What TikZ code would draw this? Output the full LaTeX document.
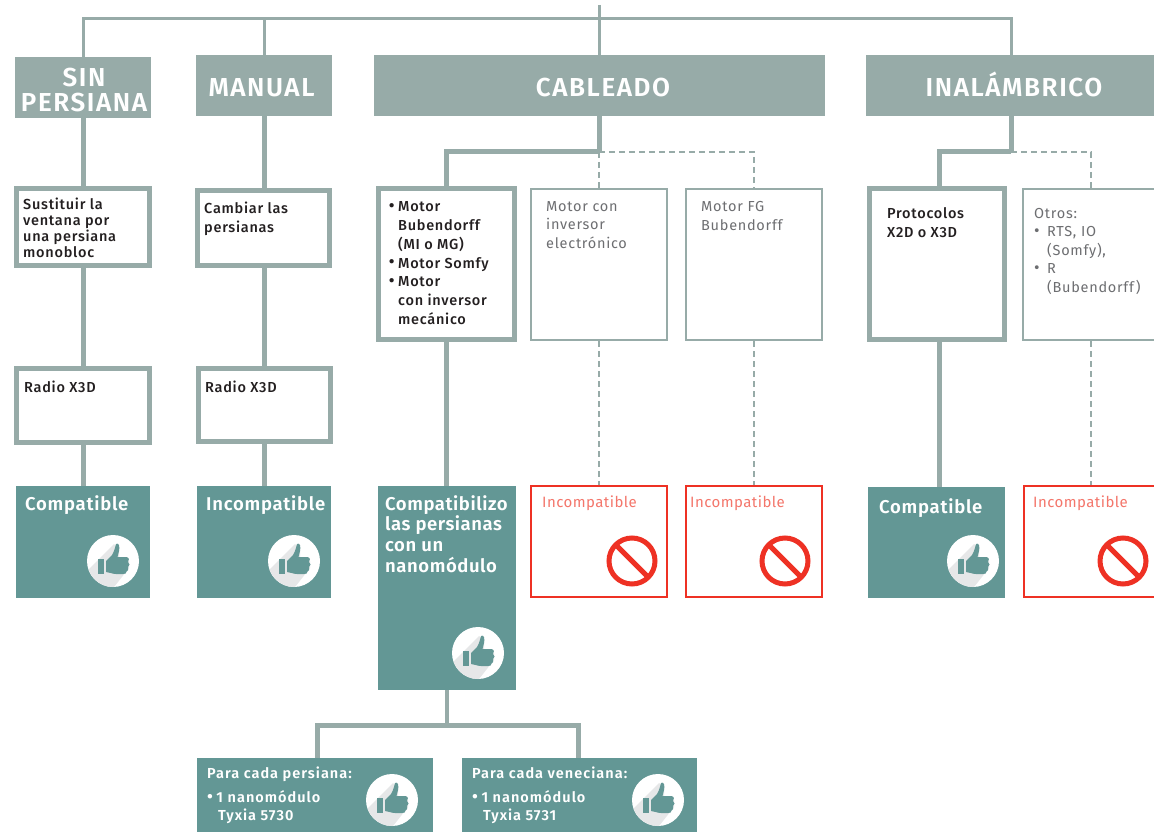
\documentclass[tikz,border=0pt]{standalone}
\usepackage{fontspec}
\setmainfont[BoldFont={Fira Sans Medium}]{Fira Sans}
\newfontfamily\heavy{Fira Sans SemiBold}
\newcommand{\spc}[1]{\addfontfeature{LetterSpace=#1}}
\newcommand{\bul}{\raisebox{0.3pt}{\fontsize{17}{17}\selectfont •}}
\definecolor{teal}{HTML}{639795}
\definecolor{slate}{HTML}{97ABA8}
\definecolor{redx}{HTML}{EE3124}
\definecolor{redt}{HTML}{F4766B}
\definecolor{gtxt}{HTML}{6D6E71}
\definecolor{dtxt}{HTML}{231F20}
\definecolor{lightshade}{HTML}{E6E7E8}
\tikzset{
 x=1pt,y=-1pt,
 header/.style={fill=slate,draw=none,inner sep=0,outer sep=0},
 thick box/.style={draw=slate,line width=5pt,fill=white,inner sep=0},
 thin box/.style={draw=slate,line width=2pt,fill=white,inner sep=0},
 red box/.style={draw=redx,line width=2pt,fill=white,inner sep=0},
 teal box/.style={fill=teal,draw=none,inner sep=0,outer sep=0},
 bus/.style={draw=slate,line width=3pt},
 solid link/.style={draw=slate,line width=5pt},
 dash link/.style={draw=slate,line width=2pt,dash pattern=on 6pt off 4pt},
 htext/.style={font=\fontsize{26}{25}\selectfont\heavy\spc{6},text=white,inner sep=0,align=center},
 dark/.style={font=\fontsize{14.5}{18.8}\selectfont\bfseries\spc{5},text=dtxt,inner sep=0,anchor=north west,align=left},
 soft/.style={font=\fontsize{14.5}{18.3}\selectfont\spc{5},text=gtxt,inner sep=0,anchor=north west,align=left},
 redtext/.style={font=\fontsize{15}{18}\selectfont\spc{3},text=redt,inner sep=0,anchor=north west,align=left},
 white text/.style={font=\fontsize{18.5}{21}\selectfont\heavy\spc{4},text=white,inner sep=0,anchor=north west,align=left},
 small white/.style={font=\fontsize{14.5}{18}\selectfont\heavy\spc{7},text=white,inner sep=0,anchor=north west,align=left},
 thumbicon/.pic={
  \fill[white] (0,0) circle (26);
  \begin{scope}
   \clip (0,0) circle (26);
   \fill[lightshade] (1,-17) -- (-30,14) -- (-30,40) -- (-10,40) -- (16,7) -- (16,0) -- (6,-4) -- (6,-12) -- cycle;
  \end{scope}
  \fill[teal] (-15.5,-2) rectangle (-9.5,12.5);
  \fill[teal] (-7,0) -- (-1,-6) .. controls (1,-9) and (2,-13) .. (3,-17)
    .. controls (6,-19) and (7,-14) .. (6,-10) -- (4.5,-4) -- (13,-4)
    .. controls (16.5,-4) and (16.5,0) .. (15,1)
    .. controls (17,2) and (17,5) .. (15,6)
    .. controls (16,8) and (15,10) .. (13.5,10.5)
    .. controls (13.5,12.5) and (12,13) .. (10,13) -- (3,13)
    .. controls (-1,13) and (-4,11) .. (-7,11) -- cycle;
 },
 noicon/.pic={
  \draw[redx,line width=5pt] (0,0) circle (23);
  \draw[redx,line width=5pt] (-16,-16) -- (16,16);
 }
}
\newcommand{\bx}[6]{\node[#1,minimum width={#5-#3},minimum height={#6-#4}] (#2) at ({(#3+#5)/2},{(#4+#6)/2}) {};}
\begin{document}
\begin{tikzpicture}
\useasboundingbox (0,0) rectangle (1154,832);
\clip (0,0) rectangle (1154,832);
% headers
\bx{header}{h1}{15}{57}{151}{118}
\bx{header}{h2}{196}{55}{332}{116}
\bx{header}{h3}{374}{55}{825}{116}
\bx{header}{h4}{866}{55}{1170}{116}
\node[htext] (t1) at (84,90) {SIN\\PERSIANA};
\node[htext,anchor=base] (t2) at (261.5,97) {MANUAL};
\node[htext,anchor=base] (t3) at (603,97) {CABLEADO};
\node[htext,anchor=base] (t4) at (1014,97) {INALÁMBRICO};
% top bus
\coordinate (root) at (599,5);
\coordinate (top) at (599,19);
\draw[bus] (root) -- (top);
\draw[bus] (h1.north) |- (top);
\draw[bus] (h2.north -| 264,0) -- (264,19);
\draw[bus] (top) -- (h3.north -| top);
\draw[bus] (top) -| (1011,55);
% column 1
\bx{thick box}{a1}{16.5}{188.5}{149.5}{265}
\bx{thick box}{a2}{16.5}{368}{149.5}{442}
\bx{teal box}{a3}{16}{486}{150}{598}
\draw[solid link] (h1.south) -- (a1.north);
\draw[solid link] (a1.south) -- (a2.north);
\draw[solid link] (a2.south) -- (a3.north);
\node[dark,font=\fontsize{14.5}{16}\selectfont\bfseries\spc{5}] (a1t) at (23,198) {Sustituir la\\ventana por\\una persiana\\monobloc};
\node[dark] (a2t) at (24,381) {Radio X3D};
\node[white text] (a3t) at (25,495) {Compatible};
\path (113,561) pic {thumbicon};
% column 2
\bx{thick box}{b1}{197.5}{190}{329.5}{265}
\bx{thick box}{b2}{198.5}{368}{330}{441}
\bx{teal box}{b3}{197}{486}{331}{598}
\draw[solid link] (264,116) -- (264,188);
\draw[solid link] (264,267) -- (264,366);
\draw[solid link] (264,443) -- (264,486);
\node[dark] (b1t) at (204,202) {Cambiar las\\persianas};
\node[dark] (b2t) at (205,381) {Radio X3D};
\node[white text] (b3t) at (206,495) {Incompatible};
\path (294,561) pic {thumbicon};
% column 3
\coordinate (j3) at (599,152);
\bx{thick box}{c1}{378.5}{188.5}{514.5}{339.5}
\bx{thin box}{c2}{531}{189}{667}{340}
\bx{thin box}{c3}{686}{189}{822}{340}
\bx{red box}{c4}{531}{486}{667}{597}
\bx{red box}{c5}{686}{486}{822}{597}
\bx{teal box}{c6}{378}{486}{516}{690}
\draw[solid link] (h3.south -| j3) -- (j3);
\draw[solid link] (j3) -| (c1.north);
\draw[dash link] (j3) -- (c2.north);
\draw[dash link] (j3) -| (c3.north);
\draw[solid link] (c1.south) -- (c1.south |- c6.north);
\draw[dash link] (c2.south) -- (c4.north);
\draw[dash link] (c3.south) -- (c5.north);
\node[dark] (c1t) at (398,201.5) {\llap{\bul\hspace{3.5pt}}Motor\\Bubendorff\\(MI o MG)\\\llap{\bul\hspace{3.5pt}}Motor Somfy\\\llap{\bul\hspace{3.5pt}}Motor\\con inversor\\mecánico};
\node[soft] (c2t) at (546,201.5) {Motor con\\inversor\\electrónico};
\node[soft] (c3t) at (701,201.5) {Motor FG\\Bubendorff};
\node[redtext] (c4t) at (542,496) {Incompatible};
\node[redtext] (c5t) at (690,496) {Incompatible};
\node[white text,font=\fontsize{18.5}{20.9}\selectfont\heavy\spc{3}] (c6t) at (385,495) {Compatibilizo\\las persianas\\con un\\nanomódulo};
\path (478,653) pic {thumbicon};
\path (632,561) pic {noicon};
\path (785,561) pic {noicon};
% bottom boxes
\coordinate (jb) at (447,725);
\bx{teal box}{p1}{197}{758}{433}{845}
\bx{teal box}{p2}{462}{758}{697}{845}
\draw[draw=slate,line width=4pt] (c6.south) -- (jb);
\coordinate (jl) at (317.7,725);
\coordinate (jr) at (578.3,725);
\draw[solid link] (p1.north -| jl) |- (jr) -- (p2.north -| jr);
\node[small white] (p1t) at (207,767) {Para cada persiana:\\[6pt]\bul\hspace{3.5pt}1 nanomódulo\\\hspace*{11pt}Tyxia 5730};
\node[small white] (p2t) at (472,767) {Para cada veneciana:\\[6pt]\bul\hspace{3.5pt}1 nanomódulo\\\hspace*{11pt}Tyxia 5731};
\path (392,800) pic {thumbicon};
\path (658,800) pic {thumbicon};
% column 4
\coordinate (j4) at (1011,152);
\bx{thick box}{d1}{869.5}{188.5}{1004}{339.5}
\bx{thin box}{d2}{1023}{189}{1175}{340}
\bx{red box}{d3}{1024}{486}{1175}{597}
\bx{teal box}{d4}{868}{487}{1005}{598}
\draw[solid link] (h4.south -| j4) -- (j4);
\draw[solid link] (j4) -| (939,186);
\draw[dash link] (j4) -| (1091,188);
\draw[solid link] (939,342) -- (939,487);
\draw[dash link] (1091,341) -- (1091,485);
\node[dark] (d1t) at (887,207.5) {Protocolos\\X2D o X3D};
\node[soft,font=\fontsize{14.5}{18.5}\selectfont\spc{5}] (d2t) at (1034,208) {Otros:\\\makebox[13pt][l]{\bul}RTS, IO\\\hspace*{13pt}(Somfy),\\\makebox[13pt][l]{\bul}R\\\hspace*{13pt}(Bubendorff)};
\node[redtext] (d3t) at (1033,496) {Incompatible};
\node[white text] (d4t) at (879,498) {Compatible};
\path (973,561) pic {thumbicon};
\path (1123,561) pic {noicon};
\end{tikzpicture}
\end{document}
